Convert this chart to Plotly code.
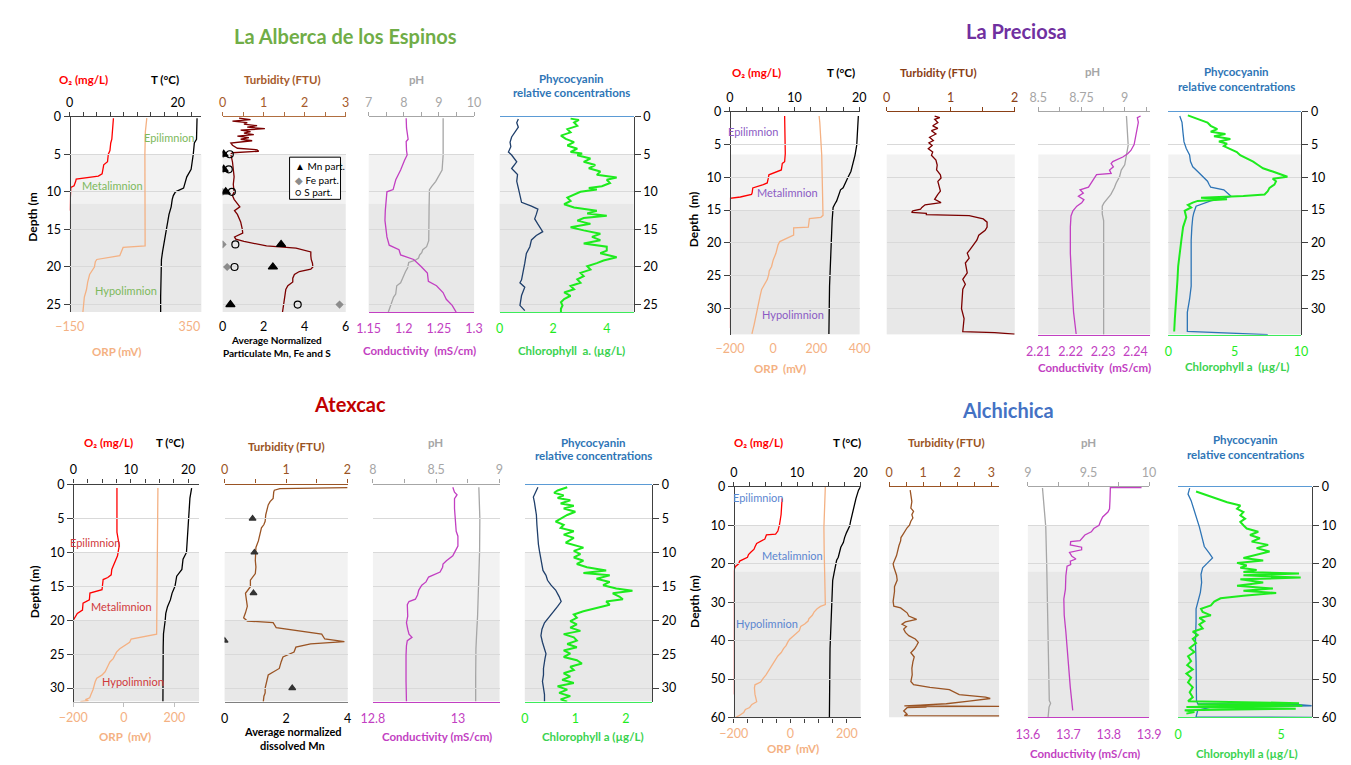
import plotly.graph_objects as go

W, H = 1351, 765
OFF = 8  # default body margin of the page that holds the plot div
FONT = "Lato, 'Open Sans', sans-serif"
TS = 12.5

# ===================== DATA  (depth m, value) =====================
# ---------- La Alberca de los Espinos ----------
alb_o2 = [(0.2, 8.1), (1, 8.05), (2, 7.9), (3, 7.8), (3.5, 7.6), (4.5, 7.45), (5, 7.15), (6, 7.0), (6.4, 6.3),
          (7, 6.1), (7.6, 6.0), (7.9, 5.3), (8.1, 3.5), (8.3, 1.2), (8.6, 1.1), (9.2, 0.8), (9.4, 0.2), (10, 0.15),
          (11, 0.05), (12.5, 0.0)]
alb_t = [(0.2, 23.6), (2, 23.6), (3, 23.5), (3.5, 23.1), (4.5, 23.0), (5, 22.9), (6, 22.7), (7, 22.5), (8, 21.7),
         (9, 21.3), (9.5, 21.1), (10, 19.6), (10.5, 19.2), (11, 19.0), (12, 18.8), (13, 18.4), (15, 17.9),
         (16, 17.6), (17, 17.4), (18, 17.2), (19, 17.0), (20, 16.95), (22, 16.9), (24, 16.85), (26, 16.85)]
alb_orp = [(0.2, 172), (1, 168), (2, 166), (5, 164), (10, 165), (15, 165), (17.2, 165), (17.4, 73), (18, 66),
           (18.5, 59), (19, -37), (19.3, -43), (20, -47), (20.5, -57), (21, -67), (22, -75), (23, -80), (24, -89),
           (25, -91), (26, -95)]
alb_turb = [(0.2, 0.40), (0.4, 0.68), (0.6, 0.24), (0.8, 0.60), (1.0, 0.52), (1.2, 0.84), (1.4, 0.60), (1.6, 1.03),
            (1.8, 0.44), (2.0, 0.68), (2.2, 0.52), (2.4, 0.76), (2.6, 0.36), (2.8, 0.64), (3.0, 0.44), (3.2, 0.72),
            (3.5, 0.20), (3.8, 0.24), (4.2, 0.36), (4.4, 0.84), (4.6, 0.88), (4.8, 0.24), (5, 0.20), (6, 0.24),
            (7, 0.26), (8, 0.28), (9, 0.26), (10, 0.28), (10.5, 0.24), (11, 0.28), (12, 0.42), (12.5, 0.29),
            (13, 0.36), (14, 0.44), (15, 0.48), (15.5, 0.49), (16, 0.29), (16.3, 0.32), (16.6, 0.52), (17, 0.88),
            (17.2, 1.07), (17.5, 1.79), (18, 2.15), (18.5, 2.15), (19, 2.16), (19.5, 2.19), (20, 2.20), (20.3, 2.15),
            (20.6, 1.87), (21, 1.75), (21.5, 1.71), (22, 1.71), (22.5, 1.59), (23, 1.54), (24, 1.51), (25, 1.49),
            (26, 1.46)]
alb_part_depth = [5, 7, 10, 17, 20, 25]
alb_mn_part = [0.05, 0.05, 0.15, 2.85, 2.45, 0.38]
alb_fe_part = [0.02, 0.02, 0.0, 0.0, 0.22, 5.7]
alb_s_part = [0.35, 0.30, 0.45, 0.62, 0.58, 3.66]
alb_ph = [(0.2, 9.12), (3, 9.12), (5.1, 9.12), (7.1, 9.09), (7.7, 9.02), (8.6, 8.91), (9.3, 8.79), (9.7, 8.73),
          (12, 8.72), (15, 8.72), (16.5, 8.71), (17.3, 8.65), (17.7, 8.54), (18.1, 8.51), (18.4, 8.45), (18.8, 8.42),
          (19.1, 8.33), (19.4, 8.14), (20.1, 8.11), (20.6, 8.05), (21.2, 8.0), (22.1, 7.91), (22.5, 7.8),
          (23.6, 7.77), (24.0, 7.71), (25.1, 7.63), (26, 7.56)]
alb_cond = [(0.2, 1.2034), (1.5, 1.2039), (3.0, 1.2062), (3.3, 1.2034), (4.5, 1.2039), (5.1, 1.2048), (5.8, 1.2011),
            (7.1, 1.1955), (8.4, 1.1886), (9.7, 1.1848), (10, 1.176), (11.2, 1.1746), (12.5, 1.1737), (13.8, 1.1732),
            (15.1, 1.1746), (16, 1.176), (17.1, 1.1793), (17.7, 1.1932), (18.4, 1.1955), (19, 1.2141), (19.9, 1.2243),
            (20.8, 1.2336), (21.9, 1.235), (22.5, 1.2466), (23.4, 1.2559), (24.3, 1.2605), (25.1, 1.2689),
            (26, 1.2745)]
alb_phyco = [(0.3, 0.70), (0.8, 0.64), (1.4, 0.70), (2.1, 0.55), (2.7, 0.45), (3.4, 0.39), (4.0, 0.42), (4.7, 0.33),
             (5.1, 0.45), (6.0, 0.64), (6.9, 0.45), (7.7, 0.67), (8.6, 0.64), (9.5, 0.70), (10.3, 0.76), (11.4, 0.82),
             (11.9, 1.19), (12.3, 1.43), (13.0, 1.37), (13.6, 1.31), (14.3, 1.43), (15.3, 1.61), (15.8, 1.37),
             (16.4, 1.19), (17.3, 1.13), (18.2, 1.0), (19.5, 0.94), (20.8, 0.88), (21.7, 0.82), (22.1, 0.76),
             (22.7, 0.94), (23.8, 0.82), (25.1, 0.76), (25.8, 0.94)]
alb_chl = [(0.26, 2.65), (0.43, 2.96), (0.78, 2.78), (1.22, 2.90), (1.65, 2.53), (2.09, 2.65), (2.52, 2.29),
           (2.96, 2.47), (3.39, 2.78), (3.83, 2.53), (4.26, 2.90), (4.7, 2.65), (4.91, 3.08), (5.13, 2.90),
           (5.57, 3.39), (6.0, 3.14), (6.43, 3.57), (6.87, 3.33), (7.3, 3.76), (7.74, 3.63), (8.09, 4.37),
           (8.39, 4.0), (8.83, 4.12), (9.26, 3.82), (9.48, 3.33), (9.7, 3.63), (10.0, 3.02), (10.35, 2.78),
           (10.78, 2.53), (11.22, 2.65), (11.65, 2.41), (12.09, 2.78), (12.52, 3.63), (12.87, 3.27), (13.17, 4.0),
           (13.48, 3.14), (13.83, 2.90), (14.26, 3.39), (14.7, 2.65), (15.13, 3.14), (15.57, 3.76), (16.0, 3.45),
           (16.43, 3.76), (16.87, 3.14), (17.3, 4.0), (17.83, 4.0), (18.17, 3.76), (18.7, 4.37), (19.13, 3.88),
           (19.48, 3.63), (19.91, 3.27), (20.35, 3.39), (20.78, 3.02), (21.22, 3.14), (21.65, 2.90), (22.09, 3.02),
           (22.52, 2.65), (22.96, 2.78), (23.39, 2.41), (23.83, 2.65), (24.26, 2.41), (24.7, 2.29), (25.13, 2.35),
           (25.57, 2.29), (26.0, 2.29)]

# ---------- La Preciosa ----------
pre_o2 = [(0.65, 8.46), (6.38, 8.56), (7.62, 8.46), (7.87, 8.1), (8.87, 7.95), (9.12, 7.29), (9.62, 6.03),
          (10.21, 5.92), (10.86, 5.77), (11.11, 5.16), (11.61, 3.54), (12.36, 3.44), (12.61, 3.34), (13.0, 1.62),
          (13.2, 0.0), (20, 0), (25, 0), (33, 0)]
pre_t = [(0.65, 19.85), (2.6, 19.75), (5.1, 19.6), (6.6, 19.34), (8.1, 19.0), (9.1, 18.7), (10.1, 18.2),
         (11.1, 17.8), (11.6, 17.5), (11.9, 17.1), (12.9, 16.8), (13.6, 16.5), (14.1, 16.2), (14.6, 15.95),
         (16.6, 15.8), (19.1, 15.7), (21.6, 15.5), (26.6, 15.4), (33.9, 15.3)]
pre_orp = [(0.65, 213), (1.6, 216), (6.6, 225), (11.6, 228), (15.8, 231), (16.1, 221), (16.3, 168), (17.6, 163),
           (17.7, 95), (18.8, 95), (19.3, 61), (19.8, 31), (20.3, 23), (21.6, 13), (22.6, 0.5), (23.6, -7),
           (24.3, -18), (24.8, -20), (25.6, -27), (26.6, -42), (27.1, -53), (28.1, -60), (29.5, -68), (31.0, -78),
           (32.5, -88), (33.9, -98)]
pre_turb = [(0.65, 0.75), (0.9, 0.83), (1.15, 0.75), (1.64, 0.80), (2.14, 0.72), (2.54, 0.80), (2.89, 0.70),
            (3.39, 0.77), (3.89, 0.67), (4.38, 0.73), (4.73, 0.66), (5.13, 0.71), (5.63, 0.65), (6.13, 0.72),
            (6.63, 0.70), (7.37, 0.77), (8.12, 0.79), (8.87, 0.78), (9.62, 0.84), (10.11, 0.85), (10.61, 0.80),
            (11.36, 0.82), (12.11, 0.84), (12.61, 0.80), (13.35, 0.75), (13.85, 0.85), (14.2, 0.60), (14.6, 0.55),
            (14.85, 0.53), (15.1, 0.41), (15.35, 0.39), (15.5, 0.62), (15.7, 0.62), (15.85, 1.29), (16.34, 1.51),
            (16.84, 1.57), (17.59, 1.57), (18.09, 1.54), (18.83, 1.44), (19.58, 1.41), (20.33, 1.36), (21.08, 1.30),
            (21.57, 1.26), (22.32, 1.29), (23.07, 1.23), (24.56, 1.26), (25.56, 1.19), (26.31, 1.23), (27.06, 1.19),
            (28.55, 1.18), (30.04, 1.17), (31.54, 1.21), (33.53, 1.19), (33.68, 1.69), (33.93, 2.0)]
pre_ph = [(0.65, 9.01), (5.1, 9.02), (6.6, 9.01), (8.1, 9.0), (8.9, 8.98), (9.9, 8.97), (10.9, 8.95), (11.6, 8.94),
          (12.6, 8.92), (13.2, 8.9), (13.9, 8.88), (14.4, 8.87), (15.1, 8.87), (15.6, 8.87), (16.6, 8.878),
          (34, 8.878)]
pre_cond = [(0.65, 2.2416), (0.9, 2.2406), (1.6, 2.2409), (3.1, 2.2403), (4.1, 2.2399), (5.0, 2.2396),
            (5.9, 2.2386), (6.4, 2.2376), (6.9, 2.2361), (7.6, 2.2330), (7.9, 2.2325), (8.4, 2.2332), (8.9, 2.2320),
            (9.4, 2.2325), (9.6, 2.2280), (10.4, 2.2270), (11.1, 2.2262), (11.5, 2.2255), (11.9, 2.2229),
            (12.4, 2.2239), (12.9, 2.2224), (13.4, 2.2241), (13.9, 2.2234), (14.4, 2.2219), (15.1, 2.2207),
            (15.9, 2.2201), (17.6, 2.2199), (21.6, 2.2199), (26.6, 2.2204), (30.6, 2.2209), (33.9, 2.2217)]
pre_phyco = [(0.65, 0.86), (1.6, 1.03), (3.1, 1.1), (4.6, 1.18), (5.6, 1.35), (6.6, 1.6), (7.6, 1.67), (8.4, 1.84),
             (9.1, 2.21), (9.9, 2.58), (10.6, 2.95), (11.1, 3.07), (11.5, 3.19), (11.9, 4.18), (12.5, 4.55),
             (12.9, 4.72), (13.6, 3.19), (14.0, 2.58), (14.4, 2.09), (15.4, 1.92), (16.1, 1.84), (17.6, 1.77),
             (19.6, 1.72), (22.6, 1.72), (26.6, 1.72), (28.6, 1.60), (30.6, 1.43), (33.5, 1.43), (33.8, 5.65),
             (34, 7.49)]
pre_chl = [(0.55, 1.47), (1.15, 2.21), (1.64, 2.95), (2.14, 3.19), (2.64, 3.69), (3.04, 3.19), (3.39, 4.30),
           (3.74, 3.44), (4.14, 4.67), (4.53, 3.81), (4.88, 4.42), (5.23, 4.18), (5.63, 4.67), (6.13, 5.16),
           (6.63, 5.41), (7.12, 5.90), (7.62, 6.39), (8.12, 6.76), (8.62, 7.13), (9.12, 7.86), (9.62, 8.60),
           (9.92, 8.97), (10.21, 7.86), (10.61, 8.11), (11.11, 7.99), (11.61, 7.62), (12.11, 7.49), (12.61, 7.25),
           (12.86, 5.65), (13.1, 2.46), (13.35, 4.42), (13.6, 2.21), (13.85, 1.84), (14.2, 1.47), (14.6, 1.72),
           (15.1, 1.23), (16.09, 1.35), (17.59, 1.11), (19.58, 0.98), (21.57, 0.86), (23.57, 0.74), (25.56, 0.69),
           (27.55, 0.61), (29.55, 0.54), (31.54, 0.49), (33.53, 0.44)]

# ---------- Atexcac ----------
atx_o2 = [(0.5, 7.6), (3, 7.6), (7, 7.6), (8, 7.8), (9, 8.0), (10.5, 7.7), (11.5, 7.2), (12.5, 6.7), (13.3, 6.6),
          (13.7, 6.0), (14, 5.2), (15.5, 5.0), (16, 2.9), (17, 2.8), (17.5, 1.7), (18.5, 1.6), (19, 0.7), (19.5, 0.3),
          (20, 0), (25, 0), (32, 0)]
atx_t = [(0.5, 20.6), (2, 20.3), (6, 20.0), (10, 19.7), (11, 19.1), (12.5, 18.9), (13.5, 18.0), (15, 17.7),
         (16, 17.2), (17, 16.9), (18, 16.4), (19, 16.1), (20, 16.0), (21, 15.85), (22, 15.7), (24, 15.65), (32, 15.6)]
atx_orp = [(0.5, 135), (5, 134), (10, 133), (15, 132), (20, 131), (22.05, 130), (22.77, 29), (23.25, 23),
           (24.2, -16), (24.7, -29), (25.66, -42), (26.15, -55), (26.6, -61), (27.6, -74), (28.1, -87),
           (28.56, -107), (29.04, -113), (29.76, -117), (30.25, -122), (30.97, -130), (31.45, -135), (31.7, -152),
           (31.85, -140), (32, -172)]
atx_turb = [(0.45, 2.0), (0.5, 1.05), (0.6, 0.9), (0.82, 0.81), (1.06, 0.80), (2.03, 0.79), (2.51, 0.74),
            (2.99, 0.71), (3.96, 0.68), (4.44, 0.67), (5.4, 0.66), (5.89, 0.64), (6.37, 0.60), (7.33, 0.58),
            (8.3, 0.55), (9.26, 0.51), (10.23, 0.50), (11.19, 0.50), (12.16, 0.51), (13.12, 0.50), (14.09, 0.42),
            (15.05, 0.42), (16.02, 0.34), (16.98, 0.35), (17.95, 0.37), (18.91, 0.34), (19.63, 0.31), (20.12, 0.37),
            (20.36, 0.79), (21.08, 0.84), (22.05, 1.58), (22.77, 1.63), (23.15, 1.95), (23.49, 1.40), (23.97, 1.16),
            (24.7, 1.13), (25.42, 0.95), (26.15, 0.92), (27.11, 0.89), (28.08, 0.71), (29.04, 0.68), (30.0, 0.66),
            (30.73, 0.66), (31.21, 0.64), (32.0, 0.63)]
atx_mn_depth = [5, 10, 16, 23, 30]
atx_mn_diss = [0.91, 0.97, 0.94, 0.0, 2.2]
atx_ph = [(0.39, 8.838), (3.3, 8.846), (5, 8.846), (9.8, 8.844), (14.6, 8.838), (17.5, 8.833), (19.4, 8.828),
          (21.8, 8.821), (24.2, 8.815), (28.1, 8.813), (32, 8.813)]
atx_cond = [(0.39, 12.988), (1.11, 12.992), (1.49, 12.998), (2.07, 12.992), (3.51, 12.992), (4.96, 12.994),
            (6.88, 12.996), (7.61, 13.0), (9.05, 13.0), (9.77, 12.994), (10.5, 12.988), (11.22, 12.973),
            (11.7, 12.965), (12.18, 12.964), (12.9, 12.958), (13.63, 12.931), (14.35, 12.925), (14.83, 12.915),
            (15.55, 12.908), (16.27, 12.905), (16.9, 12.9), (17.24, 12.885), (17.72, 12.881), (19.4, 12.882),
            (20.37, 12.879), (21.33, 12.882), (22.05, 12.885), (22.53, 12.892), (23.01, 12.881), (23.74, 12.879),
            (25.18, 12.878), (29.03, 12.878), (32, 12.879)]
atx_phyco = [(0.39, 0.26), (0.87, 0.23), (1.35, 0.19), (1.83, 0.17), (2.55, 0.19), (3.51, 0.21), (4.48, 0.23),
             (5.92, 0.24), (7.37, 0.25), (8.81, 0.27), (9.77, 0.29), (10.74, 0.31), (11.7, 0.34), (12.66, 0.36),
             (13.38, 0.42), (14.11, 0.45), (14.83, 0.52), (15.55, 0.61), (16.51, 0.68), (17.24, 0.72), (17.96, 0.65),
             (18.92, 0.55), (19.64, 0.46), (20.37, 0.39), (21.33, 0.34), (22.29, 0.32), (23.25, 0.35), (24.21, 0.39),
             (24.94, 0.42), (25.66, 0.40), (27.11, 0.37), (28.07, 0.37), (29.03, 0.35), (29.99, 0.37), (30.96, 0.39),
             (32, 0.39)]
atx_chl = [(0.39, 0.84), (0.87, 0.65), (1.2, 0.58), (1.59, 0.77), (1.97, 0.65), (2.31, 0.90), (2.79, 0.71),
           (3.13, 0.97), (3.51, 0.77), (4.0, 1.0), (4.48, 0.84), (4.96, 0.71), (5.44, 0.61), (5.92, 0.77),
           (6.4, 0.71), (6.88, 0.97), (7.37, 0.77), (7.85, 0.97), (8.57, 0.81), (9.29, 1.16), (9.77, 0.97),
           (10.26, 1.10), (10.74, 0.97), (11.22, 1.16), (11.7, 1.03), (12.18, 1.23), (12.66, 1.61), (13.05, 1.16),
           (13.38, 1.68), (13.87, 1.42), (14.35, 1.68), (14.83, 1.55), (15.31, 1.81), (15.65, 2.13), (16.03, 1.74),
           (16.51, 1.87), (16.9, 1.94), (17.24, 1.61), (17.72, 1.68), (18.2, 1.42), (18.68, 1.16), (19.16, 0.97),
           (19.64, 1.03), (20.13, 0.90), (20.61, 1.03), (21.09, 0.90), (21.57, 1.10), (22.05, 0.77), (22.53, 0.97),
           (23.01, 1.03), (23.5, 0.84), (23.98, 1.03), (24.46, 0.77), (24.94, 0.90), (25.42, 0.77), (25.9, 1.03),
           (26.38, 1.13), (26.87, 0.90), (27.35, 0.97), (27.83, 0.77), (28.31, 0.90), (28.79, 0.74), (29.27, 0.97),
           (29.75, 0.65), (30.24, 0.84), (30.72, 0.68), (31.2, 0.90), (31.68, 0.71), (32.0, 0.84)]

# ---------- Alchichica ----------
alc_o2 = [(3.0, 7.63), (7.2, 7.47), (9.8, 7.22), (11.5, 6.96), (12.3, 6.6), (12.5, 5.15), (13.6, 4.9), (14.0, 4.38),
          (14.7, 3.61), (15.6, 3.35), (16.2, 3.2), (17.0, 2.68), (17.6, 2.32), (18.3, 2.16), (19.0, 1.44),
          (19.3, 0.93), (20.0, 0.77), (20.7, 0.26), (21.3, 0.1), (21.9, 0), (42, 0), (54, 0)]
alc_t = [(0.0, 20.0), (0.85, 19.7), (3.0, 19.3), (5.1, 18.97), (7.2, 18.66), (8.9, 18.45), (10.2, 18.3), (11.1, 18.0),
         (11.9, 17.8), (13.2, 17.5), (14.5, 17.3), (15.7, 16.9), (17.0, 16.75), (18.3, 16.5), (19.1, 16.24),
         (20.9, 15.98), (22.6, 15.82), (24.3, 15.62), (26.8, 15.57), (30.2, 15.46), (35.3, 15.31), (42.1, 15.2),
         (50.6, 15.15), (60, 15.1)]
alc_orp = [(0, 124), (5.5, 121), (10.6, 119), (16.6, 120), (21.7, 122), (26.8, 124), (30.6, 124), (31.1, 107),
           (31.7, 95), (32.6, 84), (33.4, 78), (34.3, 66), (34.9, 63), (35.7, 51), (36.3, 37), (37.4, 32), (38.3, 18),
           (39.1, 3), (39.7, -3), (40.4, -9), (41.3, -15), (42.1, -24), (43.1, -32), (44.0, -44), (45.1, -53),
           (46.0, -61), (47.1, -70), (47.9, -78), (48.9, -86), (49.8, -96), (50.8, -105), (51.5, -125), (52.3, -127),
           (54.0, -125), (55.3, -121), (55.9, -119), (56.6, -136), (57.4, -144), (57.9, -159), (58.7, -165),
           (59.6, -183), (60, -194)]
alc_turb = [(0.85, 0.62), (2.13, 0.64), (3.83, 0.67), (5.53, 0.64), (6.38, 0.72), (7.23, 0.67), (8.09, 0.70),
            (8.94, 0.64), (9.96, 0.60), (10.64, 0.53), (11.49, 0.48), (12.34, 0.41), (13.19, 0.35), (14.04, 0.34),
            (15.32, 0.29), (16.6, 0.26), (17.87, 0.22), (19.15, 0.16), (20.0, 0.12), (20.85, 0.14), (21.7, 0.18),
            (22.98, 0.22), (24.26, 0.24), (25.11, 0.20), (25.96, 0.16), (27.23, 0.16), (28.51, 0.14), (29.79, 0.12),
            (31.06, 0.14), (31.49, 0.34), (32.09, 0.43), (32.77, 0.53), (33.62, 0.58), (34.47, 0.81), (35.15, 0.48),
            (35.74, 0.38), (36.34, 0.51), (37.02, 0.43), (37.87, 0.48), (38.72, 0.58), (39.57, 0.77), (40.43, 0.86),
            (41.28, 0.81), (42.13, 0.75), (43.15, 0.64), (44.26, 0.74), (45.53, 0.70), (47.23, 0.67), (48.94, 0.68),
            (50.64, 0.64), (51.49, 0.72), (52.17, 1.20), (52.77, 1.77), (53.36, 1.92), (54.04, 2.06), (54.72, 2.83),
            (55.06, 2.97), (55.74, 2.35), (56.43, 1.68), (56.77, 0.91), (57.0, 0.45), (57.11, 3.5), (57.2, 0.55),
            (57.3, 1.10), (57.45, 0.53), (57.87, 0.48), (58.3, 0.43), (58.72, 0.48), (59.15, 0.53), (59.5, 0.45),
            (59.6, 3.5)]
alc_ph = [(0.3, 9.121), (5.3, 9.134), (10.4, 9.148), (20.6, 9.156), (30, 9.161), (40.2, 9.167), (50.5, 9.172),
          (55.6, 9.177), (56.3, 9.188), (57.3, 9.175), (60, 9.167)]
alc_cond = [(0.17, 13.881), (0.2, 13.804), (3.58, 13.803), (5.71, 13.802), (6.56, 13.798), (7.84, 13.785),
            (9.12, 13.779), (9.97, 13.776), (10.83, 13.763), (11.68, 13.757), (12.53, 13.741), (13.38, 13.733),
            (13.98, 13.729), (14.24, 13.706), (15.09, 13.705), (15.69, 13.733), (16.37, 13.733), (17.05, 13.703),
            (18.07, 13.709), (18.76, 13.719), (19.35, 13.705), (20.2, 13.706), (20.63, 13.697), (23.19, 13.694),
            (26.6, 13.693), (29.16, 13.689), (33.42, 13.69), (37.68, 13.694), (41.94, 13.697), (47.06, 13.701),
            (52.17, 13.705), (58.14, 13.711)]
alc_phyco = [(0.34, 0.56), (1.88, 0.48), (3.58, 0.63), (6.14, 0.79), (7.84, 0.87), (10.4, 1.03), (12.11, 1.11),
             (13.81, 1.19), (15.52, 1.27), (17.22, 1.51), (18.5, 1.67), (19.78, 1.43), (21.06, 1.19), (22.76, 1.11),
             (24.89, 1.14), (27.45, 1.08), (30.01, 0.95), (31.71, 0.87), (35.12, 0.87), (40.24, 0.84), (45.35, 0.87),
             (50.47, 0.89), (55.58, 0.89), (56.43, 0.95), (56.69, 5.87), (56.95, 6.48), (57.29, 1.59), (58.14, 0.95),
             (59.42, 0.87), (59.85, 0.87), (60, 7.0)]
alc_chl = [(1.19, 0.87), (2.3, 1.43), (3.15, 1.90), (4.01, 2.38), (4.86, 3.02), (5.71, 2.86), (6.56, 3.17),
           (7.42, 3.02), (8.27, 3.25), (9.12, 3.02), (9.97, 3.17), (10.83, 3.33), (11.68, 3.89), (12.53, 3.49),
           (13.38, 3.97), (14.24, 3.57), (15.09, 4.37), (15.94, 3.81), (16.79, 4.44), (17.65, 3.73), (18.5, 3.17),
           (19.18, 4.13), (19.78, 2.86), (20.46, 3.33), (21.06, 3.02), (21.65, 3.81), (22.17, 3.17), (22.51, 5.87),
           (23.02, 3.17), (23.61, 5.95), (24.04, 3.02), (24.89, 4.13), (25.75, 2.86), (26.43, 4.60), (27.02, 3.17),
           (27.62, 4.76), (28.3, 3.17), (28.98, 2.06), (29.84, 1.75), (30.86, 1.59), (31.71, 1.11), (32.57, 1.19),
           (33.42, 1.59), (34.1, 1.03), (34.95, 1.27), (35.81, 1.03), (36.83, 1.19), (37.68, 0.71), (38.53, 0.95),
           (39.56, 0.71), (40.66, 0.87), (41.94, 0.56), (42.97, 0.79), (44.08, 0.48), (45.35, 0.63), (46.38, 0.44),
           (47.49, 0.71), (48.59, 0.40), (49.62, 0.63), (50.89, 0.48), (52.17, 0.71), (53.45, 0.56), (54.73, 0.71),
           (55.75, 0.48), (56.27, 5.87), (56.61, 0.95), (56.95, 6.03), (57.29, 0.40), (57.72, 5.71), (58.14, 0.32),
           (58.57, 0.79), (59.0, 0.40)]

# ---- layer boundaries (depth where metalimnion / hypolimnion begin) ----
alb_layers = (5, 11.6)
pre_layers = (6.5, 15)
atx_layers = (10, 20)
alc_layers = (10, 22)

# ===================== COLOURS =====================
C_O2 = "#FF0000"
C_T = "#000000"
C_ORP = "#F4B183"
C_PH = "#A6A6A6"
C_COND = "#C23FC2"
C_CHL = "#1EEB1E"
C_CHL_TXT = "#3AD24F"
C_PHY_TXT = "#2E75B6"
C_AX = "#404040"
SHADE_L = "#F2F2F2"
SHADE_D = "#E8E8E8"

# ===================== BUILD =====================
fig = go.Figure()
axes = {}
counts = {"x": 0, "y": 0}
shapes = []
annots = []


def fx(p):
    return (p - OFF) / W


def fy(p):
    return 1 - (p - OFF) / H


def add_axis(kind, props):
    counts[kind] += 1
    n = counts[kind]
    suf = "" if n == 1 else str(n)
    axes[f"{kind}axis{suf}"] = props
    return f"{kind}{suf}"


def split(pairs):
    return [p[1] for p in pairs], [p[0] for p in pairs]


def text(x, y, s, color, size=11.5, bold=True, angle=0, anchor="center"):
    if bold:
        s = f"<b>{s}</b>"
    annots.append(dict(x=fx(x), y=fy(y), xref="paper", yref="paper", text=s, showarrow=False,
                       font=dict(family=FONT, size=size, color=color), textangle=angle,
                       xanchor=anchor, yanchor="middle"))


def build(c):
    top, bot = c["top"], c["bottom"]
    ydom = [fy(bot), fy(top)]
    P = c["p"]
    ycommon = dict(domain=ydom, range=[c["dmax"], 0], anchor="free", tickmode="linear", tick0=0, dtick=c["ddt"],
                   ticks="outside", ticklen=6, tickcolor=C_AX, showline=True, linecolor=C_AX, linewidth=1.3,
                   zeroline=False, tickfont=dict(family=FONT, size=TS, color="black"), fixedrange=True)
    yl = add_axis("y", dict(ycommon, position=fx(P[0][0]), side="left", showgrid=True, gridcolor="#D9D9D9",
                            gridwidth=1))
    yr = add_axis("y", dict(ycommon, position=fx(P[3][1]), side="right", showgrid=False))

    def xax(panel, side, rng, tick0, dtick, fcolor, lcolor, minor=None, labels=True, ticks=True):
        d = dict(domain=[fx(P[panel][0]), fx(P[panel][1])], range=rng, anchor=yl, side=side, tickmode="linear",
                 tick0=tick0, dtick=dtick, showgrid=False, zeroline=False, fixedrange=True,
                 tickfont=dict(family=FONT, size=TS, color=fcolor), showticklabels=labels)
        if lcolor:
            d.update(showline=True, linecolor=lcolor, linewidth=1.3)
        else:
            d.update(showline=False)
        if ticks:
            d.update(ticks="outside", ticklen=4, tickcolor=lcolor or C_AX)
        else:
            d.update(ticks="", ticklabelstandoff=5)
        if minor:
            d["minor"] = dict(dtick=minor, tick0=tick0, ticks="outside", ticklen=4, tickcolor=lcolor or C_AX)
        return add_axis("x", d)

    o = c["o2t"]
    x_top1 = xax(0, "top", o[0], o[1], o[2], "black", C_AX, minor=2.5)
    o = c["orp"]
    x_bot1 = xax(0, "bottom", o[0], o[1], o[2], C_ORP, o[3], minor=o[4], ticks=o[3] is not None)
    o = c["turb"]
    x_top2 = xax(1, "top", o[0], 0, 1, c["turb_txt"], c["turb_axis"], minor=0.5)
    x_bot2 = None
    if c.get("part"):
        o = c["part"]
        x_bot2 = xax(1, "bottom", o[0], 0, o[1], "black", o[2], ticks=False)
    o = c["ph"]
    x_top3 = xax(2, "top", o[0], o[1], o[2], C_PH, C_PH, minor=o[3])
    o = c["cond"]
    x_bot3 = xax(2, "bottom", o[0], o[1], o[2], C_COND, C_COND, ticks=False)
    o = c["chl"]
    x_top4 = xax(3, "top", o[0], 0, o[1], C_PHY_TXT, "#5B9BD5", labels=False, ticks=False)
    x_bot4 = xax(3, "bottom", o[0], 0, o[1], C_CHL, "#3CEB5A", ticks=False)

    # shading of metalimnion / hypolimnion
    l1, l2 = c["layers"]
    for (x0, x1) in P:
        shapes.append(dict(type="rect", xref="paper", yref=yl, x0=fx(x0), x1=fx(x1), y0=l1, y1=l2,
                           fillcolor=SHADE_L, line=dict(width=0), layer="below"))
        shapes.append(dict(type="rect", xref="paper", yref=yl, x0=fx(x0), x1=fx(x1), y0=l2, y1=c["dmax"],
                           fillcolor=SHADE_D, line=dict(width=0), layer="below"))

    def line(pairs, xa, ya, color, width=1.3):
        xs, ys = split(pairs)
        fig.add_trace(go.Scatter(x=xs, y=ys, mode="lines", line=dict(color=color, width=width),
                                 xaxis=xa, yaxis=ya, showlegend=False, hoverinfo="skip"))

    d = c["data"]
    line(d["orp"], x_bot1, yl, C_ORP)
    line(d["o2"], x_top1, yl, C_O2)
    line(d["t"], x_top1, yl, C_T)
    line(d["turb"], x_top2, yl, c["turb_line"])
    line(d["cond"], x_bot3, yl, C_COND)
    line(d["ph"], x_top3, yl, C_PH)
    line(d["chl"], x_bot4, yr, C_CHL, 2.0)
    line(d["phyco"], x_top4, yl, c["phyco_line"])
    for (dep, vals, sym, col, size) in d.get("markers", []):
        fig.add_trace(go.Scatter(x=vals, y=dep, mode="markers", xaxis=x_bot2, yaxis=yl, showlegend=False,
                                 hoverinfo="skip",
                                 marker=dict(symbol=sym, color=col, size=size,
                                             line=dict(color=col, width=1.2))))


build(dict(
    top=110.7, bottom=310, dmax=26, ddt=5, layers=alb_layers,
    p=[(55.7, 190), (211.7, 337.3), (360.7, 468.3), (494.3, 631)],
    o2t=([0, 24.4], 0, 20), orp=([-150, 400], -150, 500, None, None),
    turb=([0, 3.001],), turb_txt="#A65A2A", turb_axis="#B06E40", turb_line="#7B0000",
    part=([0, 6.001], 2, None),
    ph=([7, 10.001], 7, 1, 0.5), cond=([1.15, 1.3001], 1.15, 0.05),
    chl=([0, 5], 2), phyco_line="#1F3F6B",
    data=dict(o2=alb_o2, t=alb_t, orp=alb_orp, turb=alb_turb, ph=alb_ph, cond=alb_cond, phyco=alb_phyco,
              chl=alb_chl,
              markers=[(alb_part_depth, alb_fe_part, "diamond", "#8C8C8C", 5),
                       (alb_part_depth, alb_s_part, "circle-open", "black", 7),
                       (alb_part_depth, alb_mn_part, "triangle-up", "black", 8)]),
))
build(dict(
    top=105.7, bottom=333, dmax=34, ddt=5, layers=pre_layers,
    p=[(729.3, 861.7), (889.3, 1020), (1044, 1158.3), (1176.7, 1312.3)],
    o2t=([0, 20.05], 0, 10), orp=([-200, 400.5], -200, 200, None, None),
    turb=([0, 2.003],), turb_txt="#8A4016", turb_axis="#8A4016", turb_line="#7B0000",
    ph=([8.5, 9.148], 8.5, 0.25, 0.125), cond=([2.21, 2.2446], 2.21, 0.01),
    chl=([0, 10.01], 5), phyco_line="#2E75B6",
    data=dict(o2=pre_o2, t=pre_t, orp=pre_orp, turb=pre_turb, ph=pre_ph, cond=pre_cond, phyco=pre_phyco,
              chl=pre_chl),
))
build(dict(
    top=486, bottom=707.3, dmax=32, ddt=5, layers=atx_layers,
    p=[(59.3, 187.7), (213.7, 339.3), (365, 494.3), (520, 650)],
    o2t=([0, 21.9], 0, 10), orp=([-200, 298], -200, 200, "#BFBFBF", None),
    turb=([0, 2.003],), turb_txt="#9A5424", turb_axis="#9A5424", turb_line="#9A5424",
    part=([0, 4.003], 2, "#7F7F7F"),
    ph=([8, 9.002], 8, 0.5, 0.25), cond=([12.8, 13.098], 12.8, 0.2),
    chl=([0, 2.52], 1), phyco_line="#1F3F6B",
    data=dict(o2=atx_o2, t=atx_t, orp=atx_orp, turb=atx_turb, ph=atx_ph, cond=atx_cond, phyco=atx_phyco,
              chl=atx_chl,
              markers=[(atx_mn_depth, atx_mn_diss, "triangle-up", "#333333", 6)]),
))
build(dict(
    top=488.3, bottom=723.5, dmax=60, ddt=10, layers=alc_layers,
    p=[(733.3, 862.7), (891.7, 1004), (1033.3, 1157.3), (1186.7, 1323.3)],
    o2t=([0, 20.03], 0, 10), orp=([-200, 249], -200, 200, C_AX, 50),
    turb=([0, 3.23],), turb_txt="#9A5424", turb_axis="#9A5424", turb_line="#9A5424",
    ph=([9, 10.002], 9, 0.5, 0.25), cond=([13.6, 13.9003], 13.6, 0.1),
    chl=([0, 6.5], 5), phyco_line="#2E75B6",
    data=dict(o2=alc_o2, t=alc_t, orp=alc_orp, turb=alc_turb, ph=alc_ph, cond=alc_cond, phyco=alc_phyco,
              chl=alc_chl),
))

# ===================== TEXT =====================
# Titles
text(337.5, 28.5, "La Alberca de los Espinos", "#70AD47", 20)
text(1022, 23, "La Preciosa", "#7030A0", 20)
text(342, 403.3, "Atexcac", "#C00000", 20)
text(1013.5, 410, "Alchichica", "#4472C4", 20)

# Lake 1
text(70, 73, "O₂ (mg/L)", C_O2)
text(153, 73, "T (°C)", "black")
text(273, 73, "Turbidity (FTU)", "#A65A2A")
text(103, 350, "ORP (mV)", C_ORP)
text(267, 338, "Average Normalized", "black", 10)
text(267, 352, "Particulate Mn, Fe and S", "black", 10)
text(18, 213, "Depth (m", "black", 12, angle=-90)
text(410, 73, "pH", C_PH)
text(413, 349, "Conductivity  (mS/cm)", C_COND)
text(568, 71.7, "Phycocyanin", C_PHY_TXT)
text(568, 86, "relative concentrations", C_PHY_TXT)
text(568, 349, "Chlorophyll  a. (µg/L)", C_CHL_TXT)
text(156.7, 131.7, "Epilimnion", "#7DB95C", 11, bold=False)
text(99, 180.7, "Metalimnion", "#7DB95C", 11, bold=False)
text(112.7, 288.3, "Hypolimnion", "#7DB95C", 11, bold=False)
# particulate legend box
shapes.append(dict(type="rect", xref="paper", yref="paper", x0=fx(280), x1=fx(332), y0=fy(195), y1=fy(152),
                   line=dict(color="black", width=1), fillcolor="white", layer="above"))
text(283, 161.5, "▲ Mn part.", "black", 10, bold=False, anchor="left")
text(283, 175, '<span style="color:#8C8C8C">◆</span> Fe part.', "black", 10, bold=False, anchor="left")
text(283, 188, "○ S part.", "black", 10, bold=False, anchor="left")

# Lake 2
text(756.7, 66, "O₂ (mg/L)", C_O2)
text(843, 66, "T (°C)", "black")
text(942, 66, "Turbidity (FTU)", "#8A4016")
text(780, 367.7, "ORP  (mV)", C_ORP)
text(693, 215, "Depth  (m)", "black", 12, angle=-90)
text(1099, 65, "pH", C_PH)
text(1101.7, 366.7, "Conductivity  (mS/cm)", C_COND)
text(1246.7, 65, "Phycocyanin", C_PHY_TXT)
text(1246.7, 80, "relative concentrations", C_PHY_TXT)
text(1246.7, 365, "Chlorophyll a  (µg/L)", C_CHL_TXT)
text(753, 125.7, "Epilimnion", "#8B5BC4", 11, bold=False)
text(787.7, 188.3, "Metalimnion", "#8B5BC4", 11, bold=False)
text(794, 312, "Hypolimnion", "#8B5BC4", 11, bold=False)

# Lake 3
text(95, 443.3, "O₂ (mg/L)", C_O2)
text(158, 443.3, "T (°C)", "black")
text(276.7, 446.7, "Turbidity (FTU)", "#9A5424")
text(111.7, 743.3, "ORP  (mV)", C_ORP)
text(283, 738.3, "Average normalized", "black", 11)
text(283, 751.7, "dissolved Mn", "black", 11)
text(20, 595, "Depth (m)", "black", 12, angle=-90)
text(429.3, 442.7, "pH", C_PH)
text(430, 743.3, "Conductivity (mS/cm)", C_COND)
text(590, 442.7, "Phycocyanin", C_PHY_TXT)
text(590, 456.7, "relative concentrations", C_PHY_TXT)
text(590, 743.3, "Chlorophyll a (µg/L)", C_CHL_TXT)
text(81.7, 545.3, "Epilimnion", "#D0393B", 11, bold=False)
text(108, 610.7, "Metalimnion", "#D0393B", 11, bold=False)
text(120.7, 686.7, "Hypolimnion", "#D0393B", 11, bold=False)

# Lake 4
text(758.3, 442.7, "O₂ (mg/L)", C_O2)
text(848.3, 442.7, "T (°C)", "black")
text(950, 442.7, "Turbidity (FTU)", "#9A5424")
text(793.3, 755, "ORP  (mV)", C_ORP)
text(693.3, 605, "Depth (m)", "black", 12, angle=-90)
text(1095, 442.7, "pH", C_PH)
text(1091.7, 760, "Conductivity (mS/cm)", C_COND)
text(1255, 440.3, "Phycocyanin", C_PHY_TXT)
text(1255, 455, "relative concentrations", C_PHY_TXT)
text(1256.7, 760, "Chlorophyll a (µg/L)", C_CHL_TXT)
text(758.3, 499, "Epilimnion", "#5B86D0", 11, bold=False)
text(793.3, 558.3, "Metalimnion", "#5B86D0", 11, bold=False)
text(766.7, 627.7, "Hypolimnion", "#5B86D0", 11, bold=False)

fig.update_layout(
    width=W, height=H, margin=dict(l=0, r=0, t=0, b=0),
    paper_bgcolor="white", plot_bgcolor="rgba(0,0,0,0)",
    font=dict(family=FONT, size=TS, color="black"),
    showlegend=False, shapes=shapes, annotations=annots, **axes,
)

fig.write_html("out.html", include_plotlyjs=True, config={"displayModeBar": False})
